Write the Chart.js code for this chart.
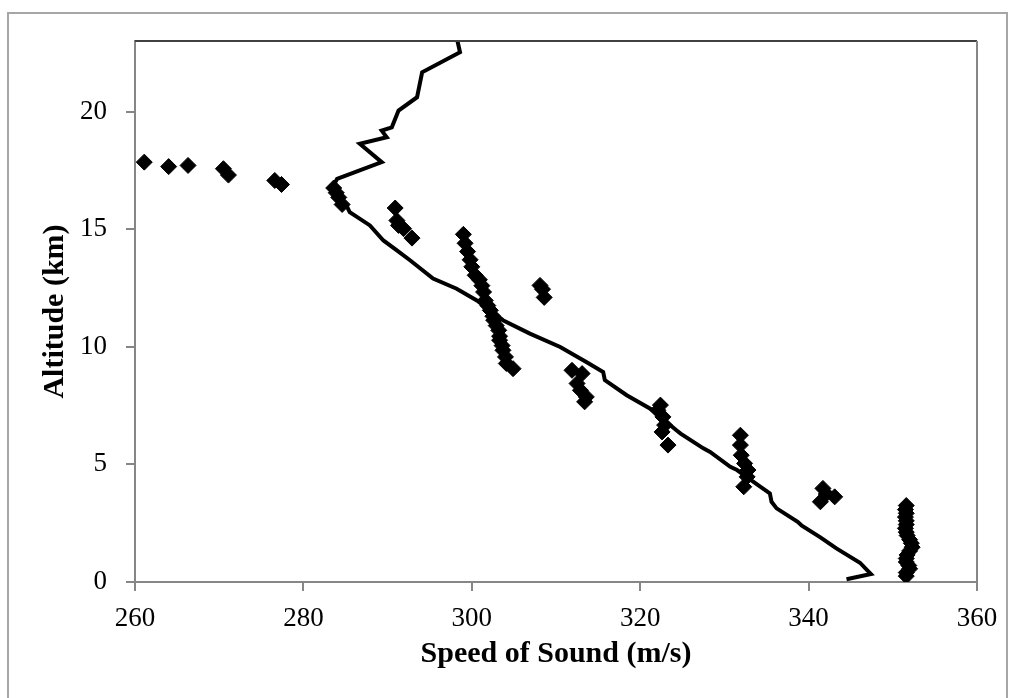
<!DOCTYPE html>
<html>
<head>
<meta charset="utf-8">
<script src="https://cdn.jsdelivr.net/npm/chart.js@4/dist/chart.umd.min.js"></script>
<style>
  body { margin: 0; background: #fff; }
  #wrap { position: relative; width: 1014px; height: 698px; overflow: hidden; }
  #frame {
    position: absolute; left: 7px; top: 12px; width: 997px; height: 720px;
    border-left: 2px solid #a6a6a6; border-top: 2px solid #a6a6a6; border-right: 2px solid #a6a6a6;
  }
  canvas { position: absolute; left: 0; top: 0; }
</style>
</head>
<body>
<div id="wrap">
  <div id="frame"></div>
  <canvas id="chart" width="1014" height="698"></canvas>
</div>
<script>
// Sound speed profile (line), bottom to top
const profileSpeed = [344.5, 347.4, 346.1, 343.3, 341.4, 339.2, 338.7, 336.2, 335.6, 335.4, 334.0, 331.5, 330.7,
  328.3, 327.5, 324.8, 324.3, 321.2, 318.4, 315.8, 315.6, 313.6, 310.5, 306.9, 303.7, 300.6, 298.2, 295.4,
  292.7, 291.1, 289.5, 287.9, 285.5, 285.2, 284.6, 283.5, 284.0, 289.3, 286.7, 289.9, 289.3, 290.5, 291.3,
  293.5, 294.1, 298.6, 298.3];
const profileAlt = [0.12, 0.34, 0.82, 1.43, 1.90, 2.39, 2.56, 3.13, 3.41, 3.77, 4.12, 4.76, 4.90,
  5.53, 5.68, 6.31, 6.45, 7.37, 7.94, 8.58, 8.93, 9.35, 9.99, 10.56, 11.13, 11.97, 12.47, 12.90,
  13.67, 14.10, 14.52, 15.16, 15.72, 15.95, 16.20, 16.80, 17.14, 17.85, 18.63, 18.91, 19.19, 19.33, 20.04,
  20.61, 21.67, 22.52, 23.0];

// Measured points (diamonds)
const obsSpeed = [261.1, 264.0, 266.3, 270.5, 271.1, 276.6, 277.4,
  283.6, 283.9, 284.2, 284.6,
  290.9, 291.1, 291.3, 291.9, 292.9,
  299.0, 299.2, 299.5, 299.8, 300.0, 300.4, 300.9, 301.2, 301.4, 301.6, 301.9, 302.2, 302.5, 302.6, 302.9,
  303.2, 303.3, 303.3, 303.6, 303.7, 304.0, 304.1, 304.9,
  308.1, 308.4, 308.6,
  311.9, 313.1, 312.5, 312.9, 313.6, 313.4,
  322.4, 322.1, 322.7, 322.9, 322.6, 323.3,
  331.9, 331.9, 332.0, 332.4, 332.8, 332.7, 332.3,
  341.7, 342.1, 343.1, 341.4,
  351.6, 351.5, 351.6, 351.5, 351.6, 351.6, 351.5, 351.6, 351.7, 352.0, 352.2, 352.3, 352.0, 351.7, 351.6,
  351.6, 351.9, 352.0, 351.6, 351.6];
const obsAlt = [17.85, 17.66, 17.71, 17.57, 17.30, 17.07, 16.90,
  16.75, 16.55, 16.35, 16.05,
  15.90, 15.37, 15.16, 15.02, 14.62,
  14.78, 14.40, 14.05, 13.70, 13.40, 13.04, 12.85, 12.60, 12.33, 11.97, 11.75, 11.55, 11.30, 11.13, 10.90,
  10.70, 10.45, 10.28, 10.05, 9.85, 9.57, 9.29, 9.07,
  12.61, 12.45, 12.10,
  9.00, 8.86, 8.44, 8.15, 7.87, 7.66,
  7.52, 7.30, 7.02, 6.67, 6.38, 5.82,
  6.24, 5.82, 5.39, 5.04, 4.76, 4.47, 4.05,
  3.98, 3.74, 3.62, 3.41,
  3.25, 3.08, 2.92, 2.76, 2.60, 2.44, 2.28, 2.12, 1.98, 1.80, 1.65, 1.48, 1.32, 1.15, 1.00,
  0.85, 0.70, 0.56, 0.40, 0.25];

const xTicks = [260, 280, 300, 320, 340, 360];
const yTicks = [0, 5, 10, 15, 20];

const axisGray = '#868686';
const tickFont = { family: 'Liberation Serif', size: 27 };
const titleFont = { family: 'Liberation Serif', size: 30, weight: 'bold' };

// top + right edges of the plot area
const plotFrame = {
  id: 'plotFrame',
  afterDatasetsDraw(chart) {
    const { ctx, chartArea: a } = chart;
    ctx.save();
    ctx.lineWidth = 2;
    ctx.strokeStyle = '#404040';
    ctx.beginPath();
    ctx.moveTo(a.left, a.top);
    ctx.lineTo(a.right, a.top);
    ctx.stroke();
    ctx.strokeStyle = axisGray;
    ctx.beginPath();
    ctx.moveTo(a.right, a.top);
    ctx.lineTo(a.right, a.bottom);
    ctx.stroke();
    ctx.restore();
  }
};

new Chart(document.getElementById('chart'), {
  type: 'scatter',
  data: {
    datasets: [
      {
        label: 'Profile',
        data: profileSpeed.map((v, i) => ({ x: v, y: profileAlt[i] })),
        showLine: true,
        borderColor: '#000',
        borderWidth: 4,
        pointRadius: 0,
        tension: 0
      },
      {
        label: 'Measured',
        data: obsSpeed.map((v, i) => ({ x: v, y: obsAlt[i] })),
        pointStyle: 'rectRot',
        pointRadius: 8,
        backgroundColor: '#000',
        borderColor: '#000',
        borderWidth: 1
      }
    ]
  },
  options: {
    responsive: false,
    animation: false,
    layout: { padding: { top: 41, right: 37, left: 0, bottom: 0 } },
    plugins: { legend: { display: false }, tooltip: { enabled: false } },
    scales: {
      x: {
        type: 'linear',
        min: 260, max: 360,
        afterFit: s => { s.height = 116; },
        afterBuildTicks: s => { s.ticks = xTicks.map(v => ({ value: v })); },
        border: { color: axisGray, width: 2 },
        grid: { drawOnChartArea: false, tickLength: 9, color: axisGray, lineWidth: 2 },
        ticks: { color: '#000', font: tickFont, padding: 12, maxRotation: 0 },
        title: { display: true, text: 'Speed of Sound (m/s)', color: '#000', font: titleFont, padding: { top: 0, bottom: 26 } }
      },
      y: {
        type: 'linear',
        min: 0, max: 23,
        afterFit: s => { s.width = 135; },
        afterBuildTicks: s => { s.ticks = yTicks.map(v => ({ value: v })); },
        border: { color: axisGray, width: 2 },
        grid: { drawOnChartArea: false, tickLength: 9, color: axisGray, lineWidth: 2 },
        ticks: { color: '#000', font: tickFont, padding: 19 },
        title: { display: true, text: 'Altitude (km)', color: '#000', font: titleFont, padding: { top: 37, bottom: 0 } }
      }
    }
  },
  plugins: [plotFrame]
});
</script>
</body>
</html>
